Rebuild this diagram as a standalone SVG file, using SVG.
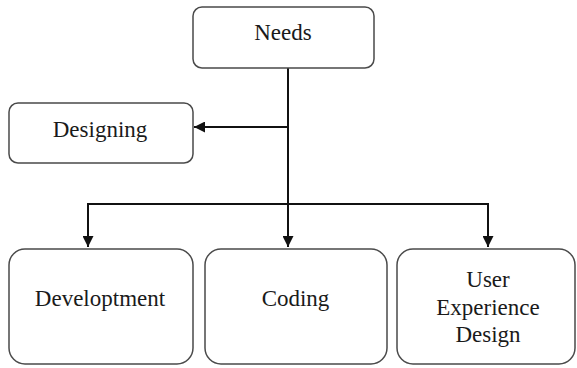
<svg xmlns="http://www.w3.org/2000/svg" width="577" height="368" viewBox="0 0 577 368">
<style>
.box{fill:#fff;stroke:#4a4a4a;stroke-width:1.5}
.t{font-family:"Times New Roman","Liberation Serif",serif;font-size:23px;fill:#1a1a1a;text-anchor:middle}
.c{fill:none;stroke:#111;stroke-width:2}
</style>
<defs>
<marker id="ah" viewBox="0 0 10 10" refX="10" refY="5" markerWidth="11" markerHeight="11" markerUnits="userSpaceOnUse" orient="auto">
<path d="M0,0 L10,5 L0,10 z" fill="#111"/>
</marker>
</defs>
<rect width="577" height="368" fill="#fff"/>
<g id="connectors">
<path class="c" d="M288,68 V247" marker-end="url(#ah)"/>
<path class="c" d="M288,127 H194" marker-end="url(#ah)"/>
<path class="c" d="M88,247 V204 H488 V247" marker-end="url(#ah)"/>
<path class="c" d="M88,204 V247" marker-end="url(#ah)"/>
</g>
<g id="needs"><rect class="box" x="193" y="7" width="181" height="61" rx="9"/><text class="t" x="283" y="40">Needs</text></g>
<g id="designing"><rect class="box" x="9" y="103" width="184" height="60" rx="9"/><text class="t" x="100" y="137">Designing</text></g>
<g id="development"><rect class="box" x="9" y="249" width="184" height="115" rx="16"/><text class="t" x="100" y="306">Developtment</text></g>
<g id="coding"><rect class="box" x="205" y="249" width="182" height="115" rx="16"/><text class="t" x="295.5" y="306">Coding</text></g>
<g id="ux"><rect class="box" x="397" y="249" width="178" height="115" rx="16"/><text class="t" x="488" y="287">User</text><text class="t" x="488" y="315">Experience</text><text class="t" x="488" y="342">Design</text></g>
</svg>
